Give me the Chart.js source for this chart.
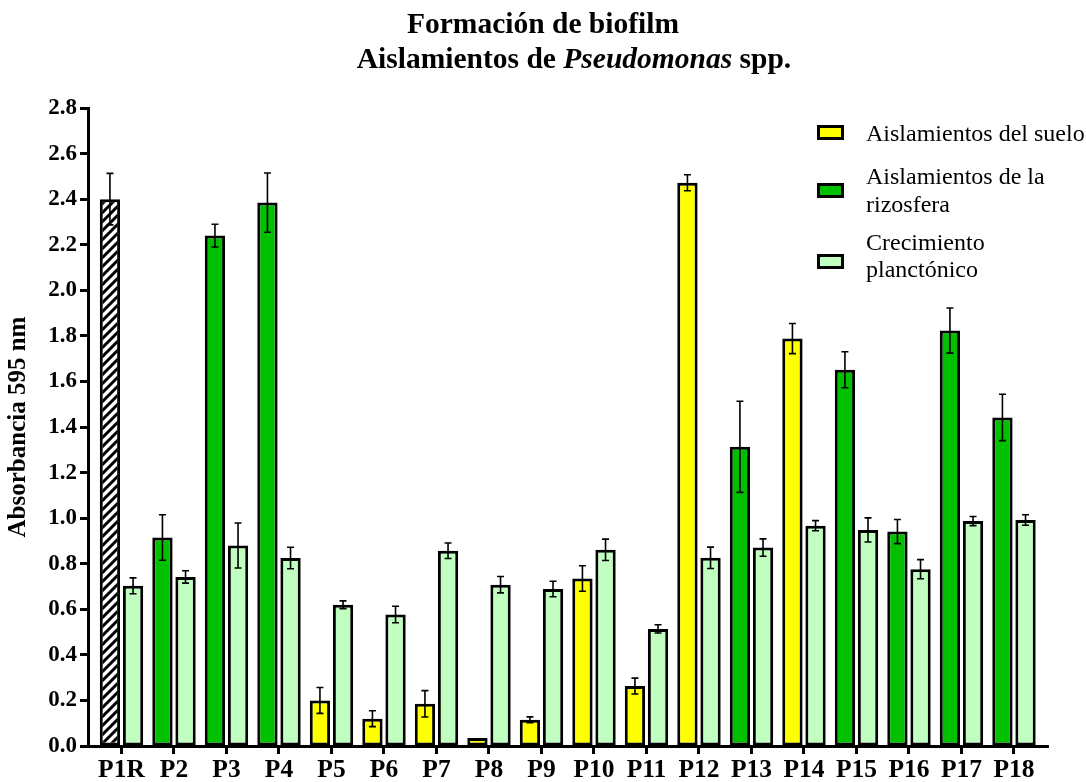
<!DOCTYPE html>
<html>
<head>
<meta charset="utf-8">
<script src="https://cdn.jsdelivr.net/npm/chart.js@4.4.1/dist/chart.umd.min.js"></script>
<style>
  html, body { margin: 0; padding: 0; background: #fff; }
  #wrap { position: relative; width: 1086px; height: 782px; overflow: hidden; }
  #c { position: absolute; left: 0; top: 0; }
  .serif { font-family: "Liberation Serif", "Times New Roman", Times, serif; color: #000; }
  .title { position: absolute; transform: translateX(-50%); white-space: nowrap;
           font-weight: bold; font-size: 29.5px; line-height: 34px; text-align: center; }
  .lg-box { position: absolute; left: 817px; width: 21px; height: 9px; border: 3px solid #000; }
  .lg-txt { position: absolute; left: 866px; font-size: 24px; line-height: 28px; white-space: nowrap; }
</style>
</head>
<body>
<div id="wrap">
  <canvas id="c" width="1086" height="782"></canvas>
  <div class="title serif" style="top:6px;left:543px;">Formación de biofilm</div>
  <div class="title serif" style="top:41px;left:574px;">Aislamientos de <i>Pseudomonas</i> spp.</div>

  <div class="lg-box" style="top:125px;background:#FFFF00;"></div>
  <div class="lg-txt serif" style="top:119px;">Aislamientos del suelo</div>

  <div class="lg-box" style="top:183px;background:#00C000;"></div>
  <div class="lg-txt serif" style="top:162px;">Aislamientos de la</div>
  <div class="lg-txt serif" style="top:190px;">rizosfera</div>

  <div class="lg-box" style="top:254px;background:#C0FFC0;"></div>
  <div class="lg-txt serif" style="top:228px;">Crecimiento</div>
  <div class="lg-txt serif" style="top:255px;">planctónico</div>
</div>
<script>
// ---- data ----
const categories = ['P1R','P2','P3','P4','P5','P6','P7','P8','P9','P10','P11','P12','P13','P14','P15','P16','P17','P18'];
const origin = ['ref','rizo','rizo','rizo','suelo','suelo','suelo','suelo','suelo','suelo','suelo','suelo','rizo','suelo','rizo','rizo','rizo','rizo'];
const biofilm    = [2.40, 0.915, 2.24, 2.385, 0.20, 0.12, 0.185, 0.035, 0.115, 0.735, 0.263, 2.472, 1.313, 1.788, 1.651, 0.941, 1.823, 1.442];
const biofilmErr = [0.113, 0.10, 0.05, 0.13, 0.057, 0.035, 0.058, 0.0, 0.013, 0.056, 0.035, 0.035, 0.20, 0.066, 0.079, 0.053, 0.099, 0.102];
const planktonic    = [0.703, 0.742, 0.88, 0.825, 0.62, 0.577, 0.857, 0.708, 0.689, 0.861, 0.514, 0.826, 0.871, 0.967, 0.948, 0.776, 0.987, 0.992];
const planktonicErr = [0.035, 0.027, 0.099, 0.047, 0.017, 0.036, 0.034, 0.036, 0.034, 0.047, 0.018, 0.047, 0.038, 0.022, 0.053, 0.042, 0.020, 0.023];
const yTicks = [0, 0.2, 0.4, 0.6, 0.8, 1.0, 1.2, 1.4, 1.6, 1.8, 2.0, 2.2, 2.4, 2.6, 2.8];

// ---- helpers ----
function pick(type) {
  return categories.map((c, i) => ({ x: i, y: origin[i] === type ? biofilm[i] : null }));
}
function pickErr(type) {
  return categories.map((c, i) => origin[i] === type ? biofilmErr[i] : null);
}
function hatch() {
  const s = 9;
  const p = document.createElement('canvas');
  p.width = s; p.height = s;
  const g = p.getContext('2d');
  g.fillStyle = '#fff'; g.fillRect(0, 0, s, s);
  g.strokeStyle = '#000'; g.lineWidth = 3;
  g.beginPath();
  g.moveTo(-1, s + 1); g.lineTo(s + 1, -1);
  g.moveTo(-1, 1); g.lineTo(1, -1);
  g.moveTo(s - 1, s + 1); g.lineTo(s + 1, s - 1);
  g.stroke();
  return g.createPattern(p, 'repeat');
}
const SERIF = '"Liberation Serif", "Times New Roman", Times, serif';

const errorBars = {
  id: 'errorBars',
  afterDatasetsDraw(chart) {
    const ctx = chart.ctx;
    const ys = chart.scales.y;
    ctx.save();
    ctx.strokeStyle = '#000';
    ctx.lineWidth = 1.6;
    chart.data.datasets.forEach((ds, di) => {
      const meta = chart.getDatasetMeta(di);
      if (!ds.errors) return;
      meta.data.forEach((el, i) => {
        const v = ds.data[i].y;
        const e = ds.errors[i];
        if (v === null || !e) return;
        const x = el.x;
        const yt = ys.getPixelForValue(v + e);
        const yb = ys.getPixelForValue(v - e);
        const cap = 3.5;
        ctx.beginPath();
        ctx.moveTo(x, yt); ctx.lineTo(x, yb);
        ctx.moveTo(x - cap, yt); ctx.lineTo(x + cap, yt);
        ctx.moveTo(x - cap, yb); ctx.lineTo(x + cap, yb);
        ctx.stroke();
      });
    });
    ctx.restore();
  }
};

const common = { borderColor: '#000', borderWidth: 3, borderSkipped: false,
                 categoryPercentage: 0.88, barPercentage: 0.88 };

new Chart(document.getElementById('c'), {
  type: 'bar',
  data: {
    datasets: [
      Object.assign({ label: 'Referencia', data: pick('ref'), errors: pickErr('ref'),
        backgroundColor: hatch(), stack: 'bio' }, common),
      Object.assign({ label: 'Aislamientos del suelo', data: pick('suelo'), errors: pickErr('suelo'),
        backgroundColor: '#FFFF00', stack: 'bio' }, common),
      Object.assign({ label: 'Aislamientos de la rizosfera', data: pick('rizo'), errors: pickErr('rizo'),
        backgroundColor: '#00C000', stack: 'bio' }, common),
      Object.assign({ label: 'Crecimiento planctónico',
        data: categories.map((c, i) => ({ x: i, y: planktonic[i] })), errors: planktonicErr,
        backgroundColor: '#C0FFC0', stack: 'pl' }, common)
    ]
  },
  options: {
    responsive: false,
    animation: false,
    devicePixelRatio: 1,
    layout: { padding: { left: 0, top: 108, right: 38, bottom: 0 } },
    plugins: { legend: { display: false }, title: { display: false }, tooltip: { enabled: false } },
    scales: {
      x: {
        type: 'linear',
        offset: false,
        min: -0.638,
        max: 17.648,
        afterBuildTicks(scale) { scale.ticks = categories.map((c, i) => ({ value: i })); },
        afterFit(scale) { scale.height = 36; },
        ticks: {
          autoSkip: false, maxRotation: 0, minRotation: 0, padding: 1,
          color: '#000', font: { family: SERIF, size: 25.5, weight: 'bold' },
          callback: (v) => categories[v]
        },
        grid: { offset: false, drawOnChartArea: false, drawTicks: true, tickLength: 8, tickWidth: 3, tickColor: '#000' },
        border: { display: true, color: '#000', width: 3 }
      },
      y: {
        stacked: false,
        min: 0,
        max: 2.8,
        afterBuildTicks(scale) { scale.ticks = yTicks.map(v => ({ value: v })); },
        afterFit(scale) { scale.width = 88; },
        ticks: {
          padding: 3, color: '#000', font: { family: SERIF, size: 23, weight: 'bold' },
          callback: (v) => Number(v).toFixed(1)
        },
        grid: { drawOnChartArea: false, drawTicks: true, tickLength: 8, tickWidth: 3, tickColor: '#000' },
        border: { display: true, color: '#000', width: 3 },
        title: { display: true, text: 'Absorbancia 595 nm', color: '#000',
                 font: { family: SERIF, size: 25, weight: 'bold' }, padding: { top: 4, bottom: 0 } }
      }
    }
  },
  plugins: [errorBars]
});
</script>
</body>
</html>
